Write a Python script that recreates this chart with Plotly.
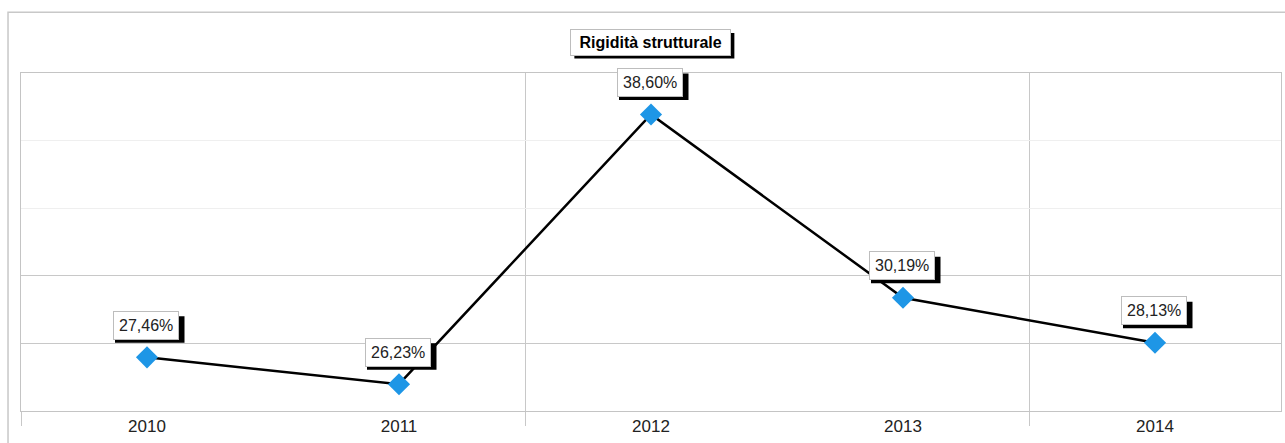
import plotly.graph_objects as go

years = ["2010", "2011", "2012", "2013", "2014"]
values = [27.46, 26.23, 38.60, 30.19, 28.13]
title_text = "Rigidità strutturale"

FONT = "Liberation Sans, Arial, sans-serif"

def fmt(v):
    return f"{v:.2f}".replace(".", ",") + "%"

xpos = list(range(len(years)))

fig = go.Figure()
fig.add_trace(go.Scatter(
    x=xpos, y=values, mode="lines+markers",
    line=dict(color="black", width=2.5),
    marker=dict(symbol="diamond", size=17, color="#1E96E6", line=dict(width=0)),
    hoverinfo="skip", showlegend=False,
))

annotations = []
shapes = [dict(type="rect", xref="paper", yref="paper",
               x0=-0.0103, x1=1.05, y0=-0.3, y1=1.18,
               line=dict(color="#c8c8c8", width=1.5), fillcolor="rgba(0,0,0,0)", layer="below")]

for x, v in zip(xpos, values):
    # black drop shadow box behind each label (pixel-sized, anchored on the point)
    shapes.append(dict(type="rect", xref="x", yref="y", xanchor=x, yanchor=v,
                       xsizemode="pixel", ysizemode="pixel",
                       x0=-32, x1=37.5, y0=14.5, y1=41,
                       fillcolor="black", line=dict(width=0), layer="above"))
    annotations.append(dict(x=x, y=v, xref="x", yref="y", text=fmt(v), showarrow=False,
                            borderpad=5, borderwidth=1, bgcolor="white", bordercolor="#bdbdbd",
                            font=dict(family=FONT, size=16, color="#222222"),
                            yanchor="middle", xanchor="center", xshift=-1.5, yshift=32))

shapes.append(dict(type="rect", xref="paper", yref="paper", xanchor=0.4995, yanchor=1.0917,
                   xsizemode="pixel", ysizemode="pixel",
                   x0=-76, x1=84, y0=-16.5, y1=9,
                   fillcolor="black", line=dict(width=0), layer="above"))
annotations.append(dict(x=0.4995, y=1.0917, xref="paper", yref="paper",
                        text="&nbsp;<b>" + title_text + "</b>&nbsp;",
                        showarrow=False, borderpad=4, borderwidth=1,
                        bgcolor="white", bordercolor="#bdbdbd",
                        font=dict(family=FONT, size=16, color="black"),
                        xanchor="center", yanchor="middle"))

fig.update_layout(
    width=1285, height=443,
    margin=dict(l=21, r=4, t=73, b=32, autoexpand=False),
    paper_bgcolor="white", plot_bgcolor="white",
    annotations=annotations,
    shapes=shapes,
    xaxis=dict(
        range=[-0.5, 4.5], tickvals=xpos, ticktext=years, ticks="", automargin=False,
        showgrid=False, zeroline=False,
        showline=True, linecolor="#c4c4c4", linewidth=1, mirror=True,
        tickfont=dict(family=FONT, size=17, color="#222222"),
        minor=dict(tick0=-0.5, dtick=2, showgrid=True, gridcolor="#c8c8c8", gridwidth=1,
                   ticks="outside", ticklen=14, tickcolor="#c8c8c8", tickwidth=1),
    ),
    yaxis=dict(
        range=[25, 40.5], tickvals=[28.1, 31.2], showticklabels=False, ticks="", automargin=False,
        showgrid=True, gridcolor="#c8c8c8", gridwidth=1, zeroline=False,
        showline=True, linecolor="#c4c4c4", linewidth=1, mirror=True,
        minor=dict(tickvals=[34.3, 37.4], showgrid=True, gridcolor="#efefef", gridwidth=1, ticks=""),
    ),
)

fig.write_html("out.html", config={"displayModeBar": False},
               post_script="document.body.style.margin='0';document.body.style.overflow='hidden';")
